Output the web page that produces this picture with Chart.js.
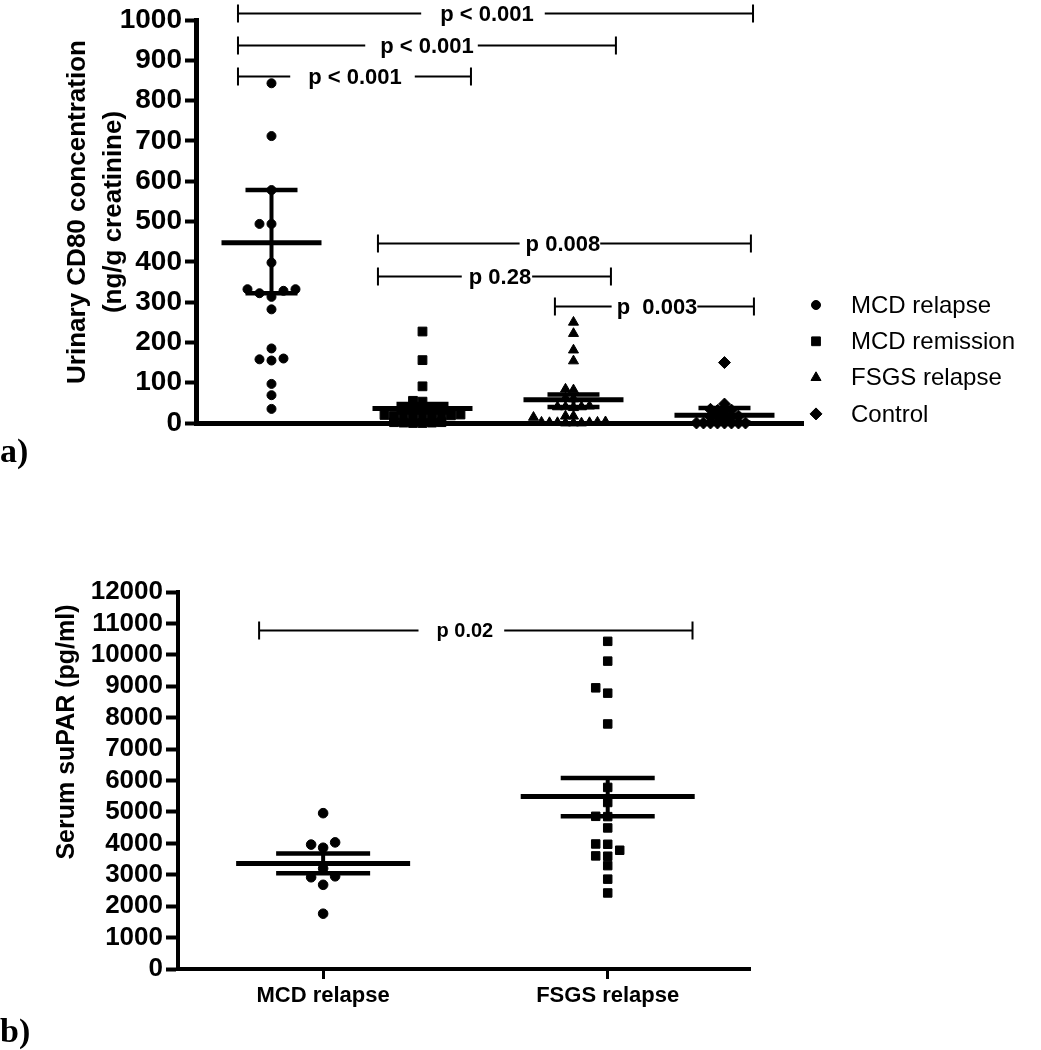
<!DOCTYPE html>
<html>
<head>
<meta charset="utf-8">
<script src="https://cdn.jsdelivr.net/npm/chart.js@4.4.0/dist/chart.umd.min.js"></script>
<style>
  body { margin: 0; background: #fff; }
  #panelA { position: absolute; left: 0; top: 0; }
  #panelB { position: absolute; left: 0; top: 470px; }
</style>
</head>
<body>
<canvas id="panelA" width="1041" height="470"></canvas>
<canvas id="panelB" width="1041" height="580"></canvas>
<script>
// ---- panel a: urinary CD80 ----
const groupsA = ['MCD relapse', 'MCD remission', 'FSGS relapse', 'Control'];
const mcdRelapseCD80 = [843, 712, 578, 494, 494, 398, 332, 328, 313, 322, 332, 282, 185, 160, 155, 158, 97, 69, 35];
const mcdRemissionCD80 = [227, 156, 91, 55, 53, 40, 38, 36, 35, 21, 20, 19, 18, 17, 16, 16, 15, 15, 2, 2, 1, 1, 0, 0];
const fsgsRelapseCD80 = [250, 222, 181, 154, 84, 82, 62, 60, 42, 40, 40, 40, 38, 17, 17, 14, 3, 2, 2, 1, 1, 1, 0, 0, 0];
const controlCD80 = [150, 47, 34, 32, 31, 30, 17, 16, 15, 14, 13, 0, 0, 0, 0, 0, 0, 0, 0];
const meanCD80 = [447, 36, 58, 19];
const semLowCD80 = [322, 26, 40, 1];
const semHighCD80 = [578, 47, 71, 37];
const yTicksA = [0, 100, 200, 300, 400, 500, 600, 700, 800, 900, 1000];

// ---- panel b: serum suPAR ----
const groupsB = ['MCD relapse', 'FSGS relapse'];
const mcdRelapseSuPAR = [4960, 4030, 3960, 3860, 3200, 2950, 2920, 2680, 1760];
const fsgsRelapseSuPAR = [10430, 9800, 8950, 8780, 7800, 5780, 5300, 4860, 4850, 4490, 3980, 3970, 3780, 3600, 3590, 3290, 2860, 2420];
const meanSuPAR = [3360, 5490];
const semLowSuPAR = [3050, 4860];
const semHighSuPAR = [3680, 6080];
const yTicksB = [0, 1000, 2000, 3000, 4000, 5000, 6000, 7000, 8000, 9000, 10000, 11000, 12000];

// significance brackets (x in group units, y in axis units)
const bracketsA = [
  { from: -0.222, to: 3.189, y: 1018, label: 'p < 0.001', at: 1.427, padL: 19, padR: 11 },
  { from: -0.222, to: 2.281, y: 938, label: 'p < 0.001', at: 1.03, padL: 15, padR: 4 },
  { from: -0.222, to: 1.321, y: 861, label: 'p < 0.001', at: 0.553, padL: 18, padR: 13 },
  { from: 0.705, to: 3.175, y: 447, label: 'p 0.008', at: 1.93, padL: 6, padR: 0 },
  { from: 0.705, to: 2.248, y: 365, label: 'p 0.28', at: 1.513, padL: 7, padR: 1 },
  { from: 1.877, to: 3.195, y: 290, label: 'p  0.003', at: 2.553, padL: 5, padR: 0 }
];
const bracketsB = [
  { from: -0.225, to: 1.298, y: 10800, label: 'p 0.02', at: 0.498, padL: 18, padR: 11 }
];

const SANS = "'Liberation Sans', Arial, sans-serif";
const SERIF = "'Liberation Serif', 'Times New Roman', serif";

// beeswarm: spread points sideways (in pixels) where they would overlap
function swarmOffsets(values, yScale, step, gap) {
  const order = values.map((v, i) => i).sort((a, b) => values[a] - values[b]);
  const placed = [];
  const offsets = new Array(values.length).fill(0);
  order.forEach(i => {
    const py = yScale.getPixelForValue(values[i]);
    for (let k = 0; k < 80; k++) {
      const dx = (k % 2 ? -1 : 1) * Math.ceil(k / 2) * step;
      const hit = placed.some(p => Math.abs(p.x - dx) < step - 0.01 && Math.abs(p.y - py) < gap);
      if (!hit) {
        offsets[i] = dx;
        placed.push({ x: dx, y: py });
        break;
      }
    }
  });
  return offsets;
}

function spreadPoints(chart, series) {
  const xs = chart.scales.x, ys = chart.scales.y;
  const pxPerUnit = xs.getPixelForValue(1) - xs.getPixelForValue(0);
  chart.data.datasets.forEach((ds, g) => {
    const vals = series[g].values;
    const off = swarmOffsets(vals, ys, series[g].step, series[g].gap);
    ds.data = vals.map((v, i) => ({ x: g + off[i] / pxPerUnit, y: v }));
  });
  chart.update('none');
}

function makeDataset(label, values, g, style, radius) {
  return {
    label: label,
    data: values.map(v => ({ x: g, y: v })),
    pointStyle: style,
    pointRadius: radius,
    pointBackgroundColor: '#000',
    pointBorderColor: '#000',
    pointBorderWidth: 1,
    showLine: false,
    clip: false
  };
}

// mean line with SEM whiskers
const meanBars = {
  id: 'meanBars',
  afterDatasetsDraw(chart, args, o) {
    const { ctx, scales: { x, y } } = chart;
    ctx.save();
    ctx.strokeStyle = '#000';
    o.mean.forEach((m, i) => {
      const cx = x.getPixelForValue(i);
      const ym = y.getPixelForValue(m);
      const yl = y.getPixelForValue(o.low[i]);
      const yh = y.getPixelForValue(o.high[i]);
      ctx.lineWidth = o.stemWidth;
      ctx.beginPath(); ctx.moveTo(cx, yl); ctx.lineTo(cx, yh); ctx.stroke();
      ctx.lineWidth = o.capWidth;
      ctx.beginPath();
      ctx.moveTo(cx - o.capHalf, yl); ctx.lineTo(cx + o.capHalf, yl);
      ctx.moveTo(cx - o.capHalf, yh); ctx.lineTo(cx + o.capHalf, yh);
      ctx.stroke();
      ctx.lineWidth = o.meanWidth;
      ctx.beginPath(); ctx.moveTo(cx - o.meanHalf, ym); ctx.lineTo(cx + o.meanHalf, ym); ctx.stroke();
    });
    ctx.restore();
  }
};

// p-value brackets
const brackets = {
  id: 'brackets',
  afterDatasetsDraw(chart, args, o) {
    const { ctx, scales: { x, y } } = chart;
    ctx.save();
    ctx.strokeStyle = '#000';
    ctx.fillStyle = '#000';
    ctx.lineWidth = o.lineWidth;
    ctx.font = o.font;
    ctx.textAlign = 'center';
    ctx.textBaseline = 'middle';
    o.items.forEach(b => {
      const x1 = x.getPixelForValue(b.from), x2 = x.getPixelForValue(b.to);
      const py = Math.round(y.getPixelForValue(b.y)) + 0.5;
      const tx = x.getPixelForValue(b.at);
      const tw = ctx.measureText(b.label).width;
      ctx.beginPath();
      ctx.moveTo(x1, py); ctx.lineTo(tx - tw / 2 - b.padL, py);
      ctx.moveTo(tx + tw / 2 + b.padR, py); ctx.lineTo(x2, py);
      ctx.moveTo(x1, py - o.tick); ctx.lineTo(x1, py + o.tick);
      ctx.moveTo(x2, py - o.tick); ctx.lineTo(x2, py + o.tick);
      ctx.stroke();
      ctx.fillText(b.label, tx, py + 1);
    });
    ctx.restore();
  }
};

// axis titles, panel letter, legend
const decor = {
  id: 'decor',
  afterDraw(chart, args, o) {
    const ctx = chart.ctx;
    ctx.save();
    ctx.fillStyle = '#000';
    ctx.textAlign = 'center';
    ctx.textBaseline = 'middle';
    ctx.font = o.titleFont;
    o.titleLines.forEach((t, i) => {
      ctx.save();
      ctx.translate(o.titleX[i], o.titleY);
      ctx.rotate(-Math.PI / 2);
      ctx.fillText(t, 0, 0);
      ctx.restore();
    });
    ctx.textAlign = 'left';
    ctx.textBaseline = 'alphabetic';
    ctx.font = o.letterFont;
    ctx.fillText(o.letter, o.letterX, o.letterY);
    if (o.legend) {
      const L = o.legend;
      ctx.font = L.font;
      ctx.textBaseline = 'middle';
      ctx.strokeStyle = '#000';
      ctx.lineWidth = 1;
      L.labels.forEach((lab, i) => {
        const yy = L.y + i * L.dy;
        Chart.helpers.drawPoint(ctx, { pointStyle: L.styles[i], radius: L.radii[i], rotation: 0, borderWidth: 1 }, L.markerX, yy);
        ctx.fillText(lab, L.textX, yy + 1);
      });
    }
    ctx.restore();
  }
};

// plain integer tick labels (no thousands separator)
const plainTick = (v) => String(v);

// ---------- chart a ----------
const seriesA = [
  { values: mcdRelapseCD80, step: 12, gap: 9 },
  { values: mcdRemissionCD80, step: 9.5, gap: 5 },
  { values: fsgsRelapseCD80, step: 8, gap: 6 },
  { values: controlCD80, step: 7, gap: 5 }
];
const chartA = new Chart(document.getElementById('panelA'), {
  type: 'scatter',
  data: {
    datasets: [
      makeDataset(groupsA[0], mcdRelapseCD80, 0, 'circle', 4.5),
      makeDataset(groupsA[1], mcdRemissionCD80, 1, 'rect', 6.2),
      makeDataset(groupsA[2], fsgsRelapseCD80, 2, 'triangle', 5.8),
      makeDataset(groupsA[3], controlCD80, 3, 'rectRot', 6)
    ]
  },
  options: {
    responsive: false,
    animation: false,
    events: [],
    layout: { autoPadding: false, padding: { left: 0, top: 20, right: 238, bottom: 47 } },
    plugins: {
      legend: { display: false },
      tooltip: { enabled: false },
      meanBars: { mean: meanCD80, low: semLowCD80, high: semHighCD80, meanHalf: 50, capHalf: 26, meanWidth: 5, capWidth: 4.5, stemWidth: 4 },
      brackets: { items: bracketsA, font: 'bold 22px ' + SANS, lineWidth: 2, tick: 9 },
      decor: {
        titleLines: ['Urinary CD80 concentration', '(ng/g creatinine)'],
        titleX: [78, 114], titleY: 212, titleFont: 'bold 26px ' + SANS,
        letter: 'a)', letterX: 0, letterY: 462, letterFont: 'bold 34px ' + SERIF,
        legend: {
          labels: groupsA, styles: ['circle', 'rect', 'triangle', 'rectRot'], radii: [4.5, 6.2, 5.8, 6],
          markerX: 816, textX: 851, y: 305, dy: 36.3, font: '24px ' + SANS
        }
      }
    },
    scales: {
      x: {
        type: 'linear', min: -0.5, max: 3.52,
        grid: { display: false, drawTicks: false },
        ticks: { display: false },
        border: { display: true, color: '#000', width: 5 },
        afterFit(s) { s.height = 0; }
      },
      y: {
        type: 'linear', min: 0, max: 1000,
        afterBuildTicks(s) { s.ticks = yTicksA.map(v => ({ value: v })); },
        grid: { drawOnChartArea: false, drawTicks: true, tickLength: 11, tickWidth: 4, color: '#000' },
        border: { display: true, color: '#000', width: 5 },
        ticks: { color: '#000', autoSkip: false, padding: 3, callback: plainTick, font: { family: SANS, size: 28, weight: 'bold' } },
        afterFit(s) { s.width = 196; }
      }
    }
  },
  plugins: [meanBars, brackets, decor]
});
spreadPoints(chartA, seriesA);

// ---------- chart b ----------
const seriesB = [
  { values: mcdRelapseSuPAR, step: 12, gap: 9 },
  { values: fsgsRelapseSuPAR, step: 12, gap: 9 }
];
const chartB = new Chart(document.getElementById('panelB'), {
  type: 'scatter',
  data: {
    datasets: [
      makeDataset(groupsB[0], mcdRelapseSuPAR, 0, 'circle', 4.8),
      makeDataset(groupsB[1], fsgsRelapseSuPAR, 1, 'rect', 6)
    ]
  },
  options: {
    responsive: false,
    animation: false,
    events: [],
    layout: { autoPadding: false, padding: { left: 0, top: 122, right: 291, bottom: 0 } },
    plugins: {
      legend: { display: false },
      tooltip: { enabled: false },
      meanBars: { mean: meanSuPAR, low: semLowSuPAR, high: semHighSuPAR, meanHalf: 87, capHalf: 47, meanWidth: 5, capWidth: 4.5, stemWidth: 4 },
      brackets: { items: bracketsB, font: 'bold 20px ' + SANS, lineWidth: 2, tick: 9 },
      decor: {
        titleLines: ['Serum suPAR (pg/ml)'],
        titleX: [67], titleY: 262, titleFont: 'bold 25px ' + SANS,
        letter: 'b)', letterX: 0, letterY: 572, letterFont: 'bold 34px ' + SERIF
      }
    },
    scales: {
      x: {
        type: 'linear', min: -0.51, max: 1.5,
        afterBuildTicks(s) { s.ticks = groupsB.map((n, i) => ({ value: i })); },
        grid: { drawOnChartArea: false, drawTicks: true, tickLength: 10, tickWidth: 3, color: '#000' },
        border: { display: true, color: '#000', width: 4 },
        ticks: {
          color: '#000', autoSkip: false, maxRotation: 0, padding: 4,
          font: { family: SANS, size: 22, weight: 'bold' },
          callback: (v) => groupsB[v]
        },
        afterFit(s) { s.height = 81; }
      },
      y: {
        type: 'linear', min: 0, max: 12000,
        afterBuildTicks(s) { s.ticks = yTicksB.map(v => ({ value: v })); },
        grid: { drawOnChartArea: false, drawTicks: true, tickLength: 12, tickWidth: 4, color: '#000' },
        border: { display: true, color: '#000', width: 4 },
        ticks: { color: '#000', autoSkip: false, padding: 3, callback: plainTick, font: { family: SANS, size: 26, weight: 'bold' } },
        afterFit(s) { s.width = 178; }
      }
    }
  },
  plugins: [meanBars, brackets, decor]
});
spreadPoints(chartB, seriesB);
</script>
</body>
</html>
